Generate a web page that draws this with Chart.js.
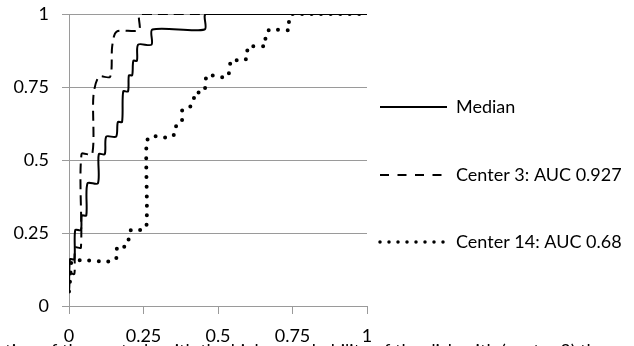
<!DOCTYPE html>
<html>
<head>
<meta charset="utf-8">
<script src="https://cdn.jsdelivr.net/npm/chart.js@4/dist/chart.umd.min.js"></script>
<style>
  html, body { margin: 0; padding: 0; background: #fff; overflow: hidden; }
  canvas { display: block; }
</style>
</head>
<body>
<canvas id="roc" width="634" height="346"></canvas>
<script>
// Axis tick labels
const xTickLabels = ['0', '0.25', '0.5', '0.75', '1'];
const yTickLabels = ['0', '0.25', '0.5', '0.75', '1'];

// Series names
const seriesNames = ['Median', 'Center 3: AUC 0.927', 'Center 14: AUC 0.68'];

// Median curve (false positive rate / true positive rate)
const medianFpr = [0, 0.003, 0.018, 0.021, 0.040, 0.043, 0.058, 0.062, 0.097, 0.100, 0.120, 0.125, 0.158, 0.164, 0.178, 0.182, 0.198, 0.201, 0.212, 0.216, 0.228, 0.232, 0.277, 0.280, 0.455, 0.460, 1];
const medianTpr = [0.05, 0.16, 0.16, 0.26, 0.26, 0.31, 0.31, 0.42, 0.42, 0.52, 0.52, 0.58, 0.58, 0.63, 0.63, 0.735, 0.735, 0.79, 0.79, 0.84, 0.84, 0.895, 0.895, 0.947, 0.947, 1, 1];

// Center 3 curve
const center3Fpr = [0, 0.005, 0.018, 0.021, 0.040, 0.042, 0.078, 0.082, 0.100, 0.138, 0.145, 0.160, 0.235, 0.240, 1];
const center3Tpr = [0.05, 0.11, 0.11, 0.20, 0.20, 0.52, 0.52, 0.72, 0.785, 0.785, 0.89, 0.94, 0.945, 1, 1];

// Center 14 curve
const center14Fpr = [0, 0.005, 0.012, 0.148, 0.162, 0.162, 0.193, 0.201, 0.209, 0.243, 0.260, 0.260, 0.273, 0.340, 0.360, 0.360, 0.380, 0.380, 0.403, 0.418, 0.422, 0.450, 0.459, 0.463, 0.530, 0.539, 0.545, 0.578, 0.600, 0.600, 0.659, 0.659, 0.673, 0.738, 0.738, 0.750, 1];
const center14Tpr = [0.05, 0.10, 0.153, 0.153, 0.172, 0.204, 0.204, 0.233, 0.261, 0.261, 0.273, 0.558, 0.581, 0.577, 0.598, 0.624, 0.638, 0.670, 0.680, 0.697, 0.731, 0.731, 0.758, 0.790, 0.783, 0.812, 0.843, 0.840, 0.851, 0.887, 0.892, 0.926, 0.946, 0.946, 0.983, 1, 1];

const bottomCaption = 'Proportion of the controls with the higher probability of the disk with (center 3) than cases';

const FONT = 'Lato, "Open Sans", sans-serif';
const GRID = '#9a9a9a';

function toPoints(xs, ys) {
  return xs.map((x, i) => ({ x: x, y: ys[i] }));
}

// Legend drawn beside the plot, one row per series
const sideLegend = {
  id: 'sideLegend',
  afterDraw(chart) {
    const ctx = chart.ctx;
    const area = chart.chartArea;
    const rows = [107, 175, 242];
    const samples = [
      { width: 2, dash: [], cap: 'butt', from: 13, to: 80 },
      { width: 2, dash: [9, 8.5], cap: 'butt', from: 13, to: 75 },
      { width: 3.5, dash: [0, 9], cap: 'round', from: 13, to: 77 }
    ];
    ctx.save();
    chart.data.datasets.forEach((ds, i) => {
      const s = samples[i];
      const y = rows[i];
      ctx.beginPath();
      ctx.setLineDash(s.dash);
      ctx.lineCap = s.cap;
      ctx.lineWidth = s.width;
      ctx.strokeStyle = '#000';
      ctx.moveTo(area.right + s.from, y);
      ctx.lineTo(area.right + s.to, y);
      ctx.stroke();
      ctx.setLineDash([]);
      ctx.fillStyle = '#000';
      ctx.font = '18px ' + FONT;
      ctx.textAlign = 'left';
      ctx.textBaseline = 'middle';
      ctx.fillText(ds.label, area.right + 89, y);
    });
    // caption under the x axis, partly beyond the lower edge
    ctx.font = '18px ' + FONT;
    ctx.textAlign = 'center';
    ctx.textBaseline = 'alphabetic';
    ctx.fillText(bottomCaption, chart.width / 2 - 10, 357);
    ctx.restore();
  }
};

new Chart(document.getElementById('roc'), {
  type: 'line',
  data: {
    datasets: [
      {
        label: seriesNames[0],
        data: toPoints(medianFpr, medianTpr),
        borderColor: '#000',
        borderWidth: 2,
        tension: 0.28,
        pointRadius: 0,
        order: 1
      },
      {
        label: seriesNames[1],
        data: toPoints(center3Fpr, center3Tpr),
        borderColor: '#000',
        borderWidth: 2,
        borderDash: [10, 6],
        tension: 0.28,
        pointRadius: 0,
        order: 2
      },
      {
        label: seriesNames[2],
        data: toPoints(center14Fpr, center14Tpr),
        borderColor: '#000',
        borderWidth: 4,
        borderDash: [0, 9.5],
        borderCapStyle: 'round',
        tension: 0.28,
        pointRadius: 0,
        order: 0
      }
    ]
  },
  options: {
    responsive: false,
    animation: false,
    layout: { autoPadding: false, padding: { left: 0, right: 267, top: 14, bottom: 0 } },
    plugins: {
      legend: { display: false },
      tooltip: { enabled: false }
    },
    scales: {
      x: {
        type: 'linear',
        min: 0,
        max: 1,
        afterFit(scale) { scale.height = 40; },
        ticks: {
          stepSize: 0.25,
          maxRotation: 0,
          padding: 11,
          color: '#000',
          font: { family: FONT, size: 18 },
          callback: (v, i) => xTickLabels[i]
        },
        grid: { drawOnChartArea: false, drawTicks: true, tickLength: 8, color: GRID },
        border: { display: true, color: GRID, width: 1 }
      },
      y: {
        type: 'linear',
        min: 0,
        max: 1,
        afterFit(scale) { scale.width = 69; },
        ticks: {
          stepSize: 0.25,
          padding: 13,
          color: '#000',
          font: { family: FONT, size: 18, lineHeight: 0.01 },
          callback: (v, i) => yTickLabels[i]
        },
        grid: { drawOnChartArea: true, drawTicks: true, tickLength: 7, color: GRID },
        border: { display: true, color: GRID, width: 1 }
      }
    }
  },
  plugins: [sideLegend]
});
</script>
</body>
</html>
